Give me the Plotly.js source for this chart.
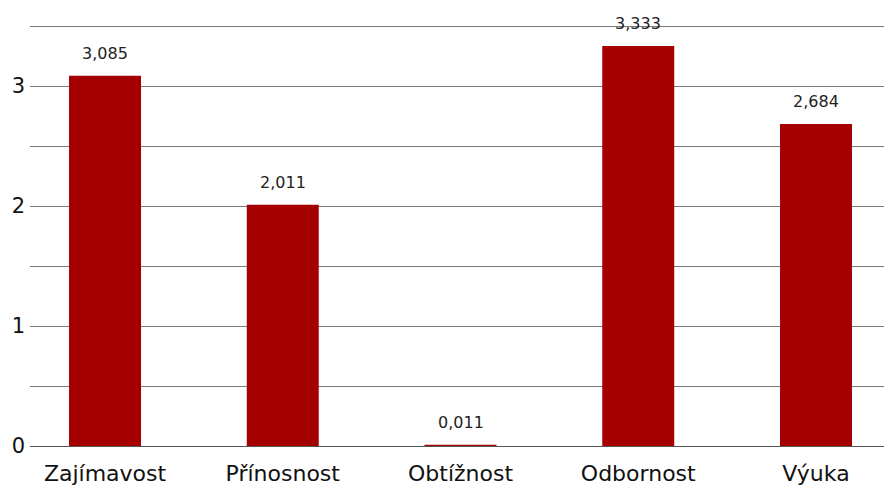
<!DOCTYPE html>
<html>
<head>
<meta charset="utf-8">
<script src="https://cdn.plot.ly/plotly-3.0.1.min.js"></script>
<style>html,body{margin:0;padding:0;background:#fff;}#chart{width:884px;height:488px;}</style>
</head>
<body>
<div id="chart"></div>
<script>
const categories = ["Zajímavost", "Přínosnost", "Obtížnost", "Odbornost", "Výuka"];
const values = [3.085, 2.011, 0.011, 3.333, 2.684];
const yTickVals = [0, 1, 2, 3];
const yTickText = ["0", "1", "2", "3"];

const FONT = "'DejaVu Sans', sans-serif";

const trace = {
  type: "bar",
  x: categories,
  y: values,
  width: 0.405,
  marker: {color: "#a50000"},
  hoverinfo: "none"
};

const annotations = categories.map((c, i) => ({
  x: c, y: values[i], xref: "x", yref: "y",
  text: values[i].toFixed(3).replace(".", ","),
  showarrow: false, yanchor: "bottom", yshift: 11,
  font: {family: FONT, size: 16, color: "#222"}
}));

const layout = {
  width: 884, height: 488,
  margin: {l: 30, r: 0, t: 10, b: 42},
  paper_bgcolor: "#fff", plot_bgcolor: "#fff",
  showlegend: false,
  separators: ", ",
  xaxis: {
    range: [-0.422, 4.3826],
    showgrid: false, zeroline: false, showline: false,
    tickfont: {family: FONT, size: 22, color: "#111"},
    ticklabelstandoff: 12,
    ticks: "", fixedrange: true
  },
  yaxis: {
    range: [0, 3.6333],
    tickvals: yTickVals, ticktext: yTickText,
    showgrid: true, gridcolor: "#7a7a7a", gridwidth: 1,
    zeroline: true, zerolinecolor: "#555", zerolinewidth: 1,
    showline: false, ticks: "",
    tickfont: {family: FONT, size: 21, color: "#111"},
    ticklabelstandoff: 4,
    minor: {dtick: 0.5, tick0: 0, showgrid: true, gridcolor: "#7a7a7a", gridwidth: 1, ticks: ""},
    fixedrange: true
  },
  annotations: annotations
};

Plotly.newPlot("chart", [trace], layout, {displayModeBar: false, staticPlot: true});
</script>
</body>
</html>
